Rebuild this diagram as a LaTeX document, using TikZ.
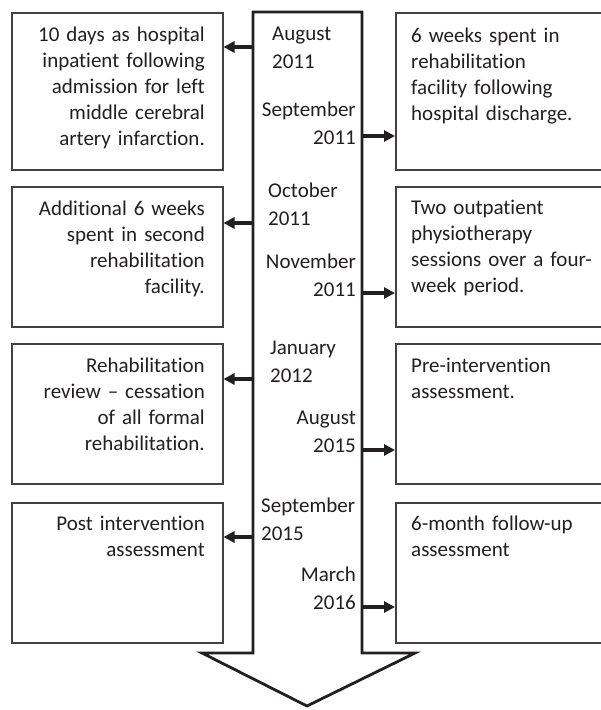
\documentclass[tikz,border=0pt]{standalone}
\usepackage{fontspec}
\setmainfont{Carlito}[Ligatures=NoCommon]
\usetikzlibrary{arrows.meta}
\definecolor{ink}{HTML}{231F20}
\tikzset{
  box/.style={draw=ink!85, line width=1.5pt, inner sep=0pt, anchor=north west},
  ltext/.style={inner sep=0pt, text width=190pt, align=right, anchor=base east, text=ink, font=\fontsize{21}{26}\selectfont},
  rtext/.style={inner sep=0pt, text width=190pt, align=left, anchor=base west, text=ink, font=\fontsize{21}{26}\selectfont},
  dleft/.style={inner sep=0pt, text width=95pt, align=left, anchor=base west, text=ink, font=\fontsize{21}{28}\selectfont},
  dright/.style={inner sep=0pt, text width=95pt, align=right, anchor=base east, text=ink, font=\fontsize{21}{28}\selectfont},
  conn/.style={draw=ink, line width=3.6pt, -{Triangle[length=11pt,width=11pt]}},
  bigarrow/.style={draw=ink, line width=2.8pt, line join=miter}
}
\begin{document}
\begin{tikzpicture}[x=1pt,y=-1pt]
\useasboundingbox (0,0) rectangle (601,710);
\clip (0,0) rectangle (601,710);
% big timeline arrow
\draw[bigarrow] (253,12) -- (362,12) -- (362,653) -- (415,653) -- (307,706) -- (202,653) -- (253,653) -- cycle;
% left boxes
\node[box, minimum width=211pt, minimum height=157pt] (L1) at (11,12) {};
\node[box, minimum width=211pt, minimum height=140pt] (L2) at (11,186) {};
\node[box, minimum width=211pt, minimum height=140pt] (L3) at (11,343) {};
\node[box, minimum width=211pt, minimum height=140pt] (L4) at (11,502) {};
% right boxes
\node[box, minimum width=215pt, minimum height=157pt] (R1) at (395,12) {};
\node[box, minimum width=215pt, minimum height=140pt] (R2) at (395,186) {};
\node[box, minimum width=215pt, minimum height=140pt] (R3) at (395,343) {};
\node[box, minimum width=215pt, minimum height=140pt] (R4) at (395,502) {};
% box texts
\node[ltext] (tL1) at (205,41) {10 days as hospital\\inpatient following\\admission for left\\middle cerebral\\artery infarction.};
\node[ltext] (tL2) at (205,215) {Additional 6 weeks\\spent in second\\rehabilitation\\facility.};
\node[ltext] (tL3) at (205,372) {Rehabilitation\\review – cessation\\of all formal\\rehabilitation.};
\node[ltext] (tL4) at (205,530) {Post intervention\\assessment};
\node[rtext] (tR1) at (411,42) {6 weeks spent in\\rehabilitation\\facility following\\hospital discharge.};
\node[rtext] (tR2) at (411,214) {Two outpatient\\physiotherapy\\sessions over a four-\\week period.};
\node[rtext] (tR3) at (411,372) {Pre-intervention\\assessment.};
\node[rtext] (tR4) at (411,530) {6-month follow-up\\assessment};
% dates
\node[dleft] (d1) at (272,40) {August\\2011};
\node[dright] (d2) at (356,116) {September\\2011};
\node[dleft] (d3) at (268,197) {October\\2011};
\node[dright] (d4) at (356,268) {November\\2011};
\node[dleft] (d5) at (270,354) {January\\2012};
\node[dright] (d6) at (356,424) {August\\2015};
\node[dleft] (d7) at (261,512) {September\\2015};
\node[dright] (d8) at (356,581) {March\\2016};
% connector start points on the shaft
\coordinate (s1) at (253,47);
\coordinate (s2) at (362,136);
\coordinate (s3) at (253,223);
\coordinate (s4) at (362,293);
\coordinate (s5) at (253,379);
\coordinate (s6) at (362,450);
\coordinate (s7) at (253,537);
\coordinate (s8) at (362,607);
\draw[conn] (s1) -- (s1 -| L1.east);
\draw[conn] (s2) -- (s2 -| R1.west);
\draw[conn] (s3) -- (s3 -| L2.east);
\draw[conn] (s4) -- (s4 -| R2.west);
\draw[conn] (s5) -- (s5 -| L3.east);
\draw[conn] (s6) -- (s6 -| R3.west);
\draw[conn] (s7) -- (s7 -| L4.east);
\draw[conn] (s8) -- (s8 -| R4.west);
\end{tikzpicture}
\end{document}
